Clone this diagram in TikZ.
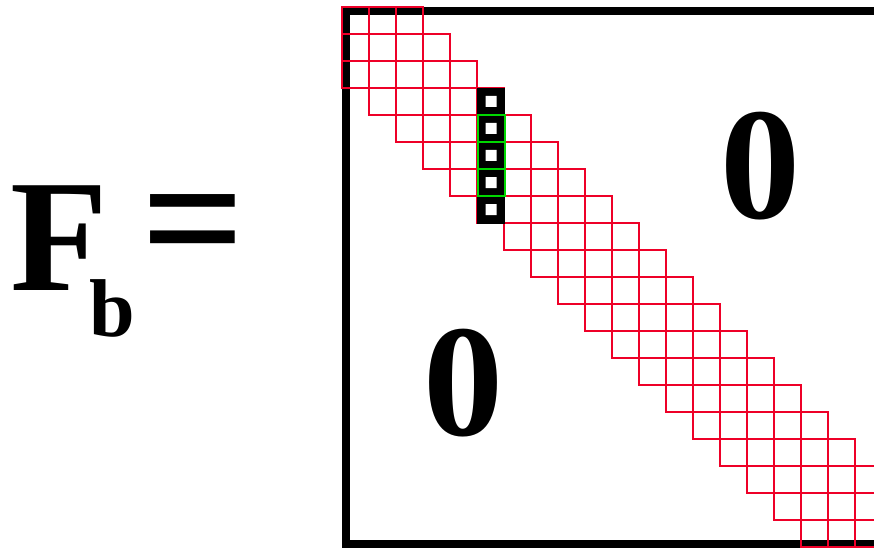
\documentclass[tikz,border=0pt]{standalone}
\usepackage{fontspec}
\setmainfont{Liberation Serif}
\definecolor{bandred}{RGB}{238,0,40}
\definecolor{blockgreen}{RGB}{0,215,0}
\tikzset{
  bandcell/.style={draw=bandred, line width=2pt},
  blockcell/.style={draw=blockgreen, line width=2pt},
  bigtext/.style={inner sep=0pt, font=\bfseries\fontsize{160}{160}\selectfont},
  subtext/.style={inner sep=0pt, font=\bfseries\fontsize{82}{82}\selectfont}
}
\begin{document}
\begin{tikzpicture}[x=1pt, y=-1pt]
    \useasboundingbox (0,0) rectangle (874,548);
    \clip (0,0) rectangle (874,548);

    % Left-hand side
    \node[bigtext, anchor=base west] (F) at (10,290) {F};
    \node[subtext, anchor=base west] (b) at (89,336) {b};
    \node[bigtext, font=\bfseries\fontsize{182}{182}\selectfont] (eq) at (193,237) {=};

    % Matrix frame
    \draw[line width=8pt] (346,11) rectangle (900,544);

    % Zero blocks
    \node[bigtext] (zeroU) at (760,166) {0};
    \node[bigtext] (zeroL) at (463,383) {0};

    % Band of width 2
    \foreach \r in {0,...,19} {
        \foreach \d in {-2,...,2} {
            \pgfmathtruncatemacro{\c}{\r+\d}
            \ifnum\c<0 \else
                \draw[bandcell] ({342+27*\c},{7+27*\r}) rectangle +(27,27);
            \fi
        }
    }

    % Column block
    \fill[black] (477,88) rectangle (505,224);
    \foreach \r in {4,5,6}
        \draw[blockcell] (478,{7+27*\r}) rectangle +(27,27);
    \foreach \r in {3,...,7}
        \fill[white] (491,{7+27*\r+13.5}) rectangle +(-5.5,-5.5) rectangle +(5.5,5.5);
\end{tikzpicture}
\end{document}
